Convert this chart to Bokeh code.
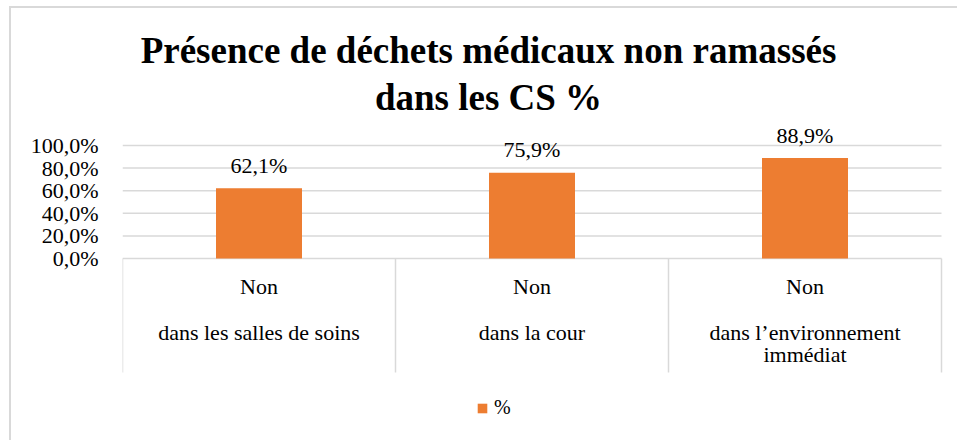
from bokeh.plotting import figure
from bokeh.models import ColumnDataSource, Range1d, FixedTicker, Label, Legend, LegendItem
from bokeh.core.properties import value
from bokeh.embed import file_html
from bokeh.resources import INLINE

# ---- data ----
groups = ["Non", "Non", "Non"]
categories = ["dans les salles de soins", "dans la cour", "dans l\u2019environnement\nimm\u00e9diat"]
values = [62.1, 75.9, 88.9]
value_labels = ["62,1%", "75,9%", "88,9%"]
y_ticks = [0, 20, 40, 60, 80, 100]
y_tick_labels = ["0,0%", "20,0%", "40,0%", "60,0%", "80,0%", "100,0%"]
title_lines = ["Pr\u00e9sence de d\u00e9chets m\u00e9dicaux non ramass\u00e9s", "dans les CS %"]
legend_label = "%"

FONT = "Liberation Serif"
BAR = "#ED7D31"
GRID = "#d9d9d9"

# ---- layout (page pixels) ----
W, H = 957, 440
LEFT = 122          # plot area left
CAT_W = 273         # pixels per category
Y0, Y100 = 258, 145 # pixel rows of 0% and 100%
SEP_BOTTOM = 372
k = (Y0 - Y100) / 100.0

n = len(categories)
xc = [i + 0.5 for i in range(n)]
src = ColumnDataSource(dict(x=xc, top=values, lab=value_labels, grp=groups,
                            cat=categories, y0=[0] * n))

p = figure(width=W, height=H, output_backend="svg", toolbar_location=None,
           x_range=Range1d(0, (W - LEFT) / CAT_W),
           y_range=Range1d(-(H - Y0) / k, 100 + Y100 / k),
           min_border_left=LEFT, min_border_right=0, min_border_top=0,
           min_border_bottom=0, background_fill_color=None,
           border_fill_color=None, outline_line_color=None)
p.styles = {"background": "linear-gradient(#d9d9d9,#d9d9d9) 9px 6px / 2px 100% no-repeat, "
                          "linear-gradient(#d9d9d9,#d9d9d9) 9px 6px / 100% 2px no-repeat, white"}

p.xaxis.visible = False
p.grid.visible = False
yax = p.yaxis[0]
yax.ticker = FixedTicker(ticks=y_ticks)
yax.major_label_overrides = {t: l for t, l in zip(y_ticks, y_tick_labels)}
yax.axis_line_color = None
yax.major_tick_line_color = None
yax.major_tick_out = 0
yax.major_tick_in = 0
yax.minor_tick_line_color = None
yax.major_label_standoff = 24
yax.major_label_text_font = FONT
yax.major_label_text_font_size = "22px"
yax.major_label_text_color = "black"

# horizontal gridlines across the category span
p.segment(x0=[0] * len(y_ticks), x1=[n] * len(y_ticks), y0=y_ticks, y1=y_ticks,
          line_color=GRID, line_width=1.5)
# category separators below the baseline
sep_x = list(range(n + 1))
p.segment(x0=sep_x, x1=sep_x, y0=[0] * (n + 1), y1=[-(SEP_BOTTOM - Y0) / k] * (n + 1),
          line_color=GRID, line_width=1.5)

bars = p.vbar(x="x", top="top", width=0.315, bottom=0, source=src,
              fill_color=BAR, line_color=None)

p.text(x="x", y="top", text="lab", source=src, text_align="center",
       text_baseline="middle", y_offset=-23, text_font=value(FONT),
       text_font_size="22px", text_color="black")
p.text(x="x", y="y0", text="grp", source=src, text_align="center",
       text_baseline="middle", y_offset=28, text_font=value(FONT),
       text_font_size="22px", text_color="black")
p.text(x="x", y="y0", text="cat", source=src, text_align="center",
       text_baseline="top", y_offset=61, text_font=value(FONT),
       text_font_size="22px", text_color="black", text_line_height=0.9)

# title lines (screen units relative to the plot frame's bottom-left)
for txt, cy in zip(title_lines, [50, 97]):
    p.add_layout(Label(x=488 - LEFT, y=H - cy, x_units="screen", y_units="screen",
                       text=txt, text_align="center", text_baseline="middle",
                       text_font=FONT, text_font_size="37px",
                       text_font_style="bold", text_color="black"))

legend = Legend(items=[LegendItem(label=legend_label, renderers=[bars])],
                location=(476 - LEFT, H - 419), orientation="horizontal",
                glyph_width=12, glyph_height=12, label_standoff=6, padding=0,
                margin=0, border_line_color=None, background_fill_color=None,
                label_text_font=FONT, label_text_font_size="20px",
                label_height=22, label_text_color="black")
p.add_layout(legend)

open("out.html", "w").write(file_html(p, INLINE))
